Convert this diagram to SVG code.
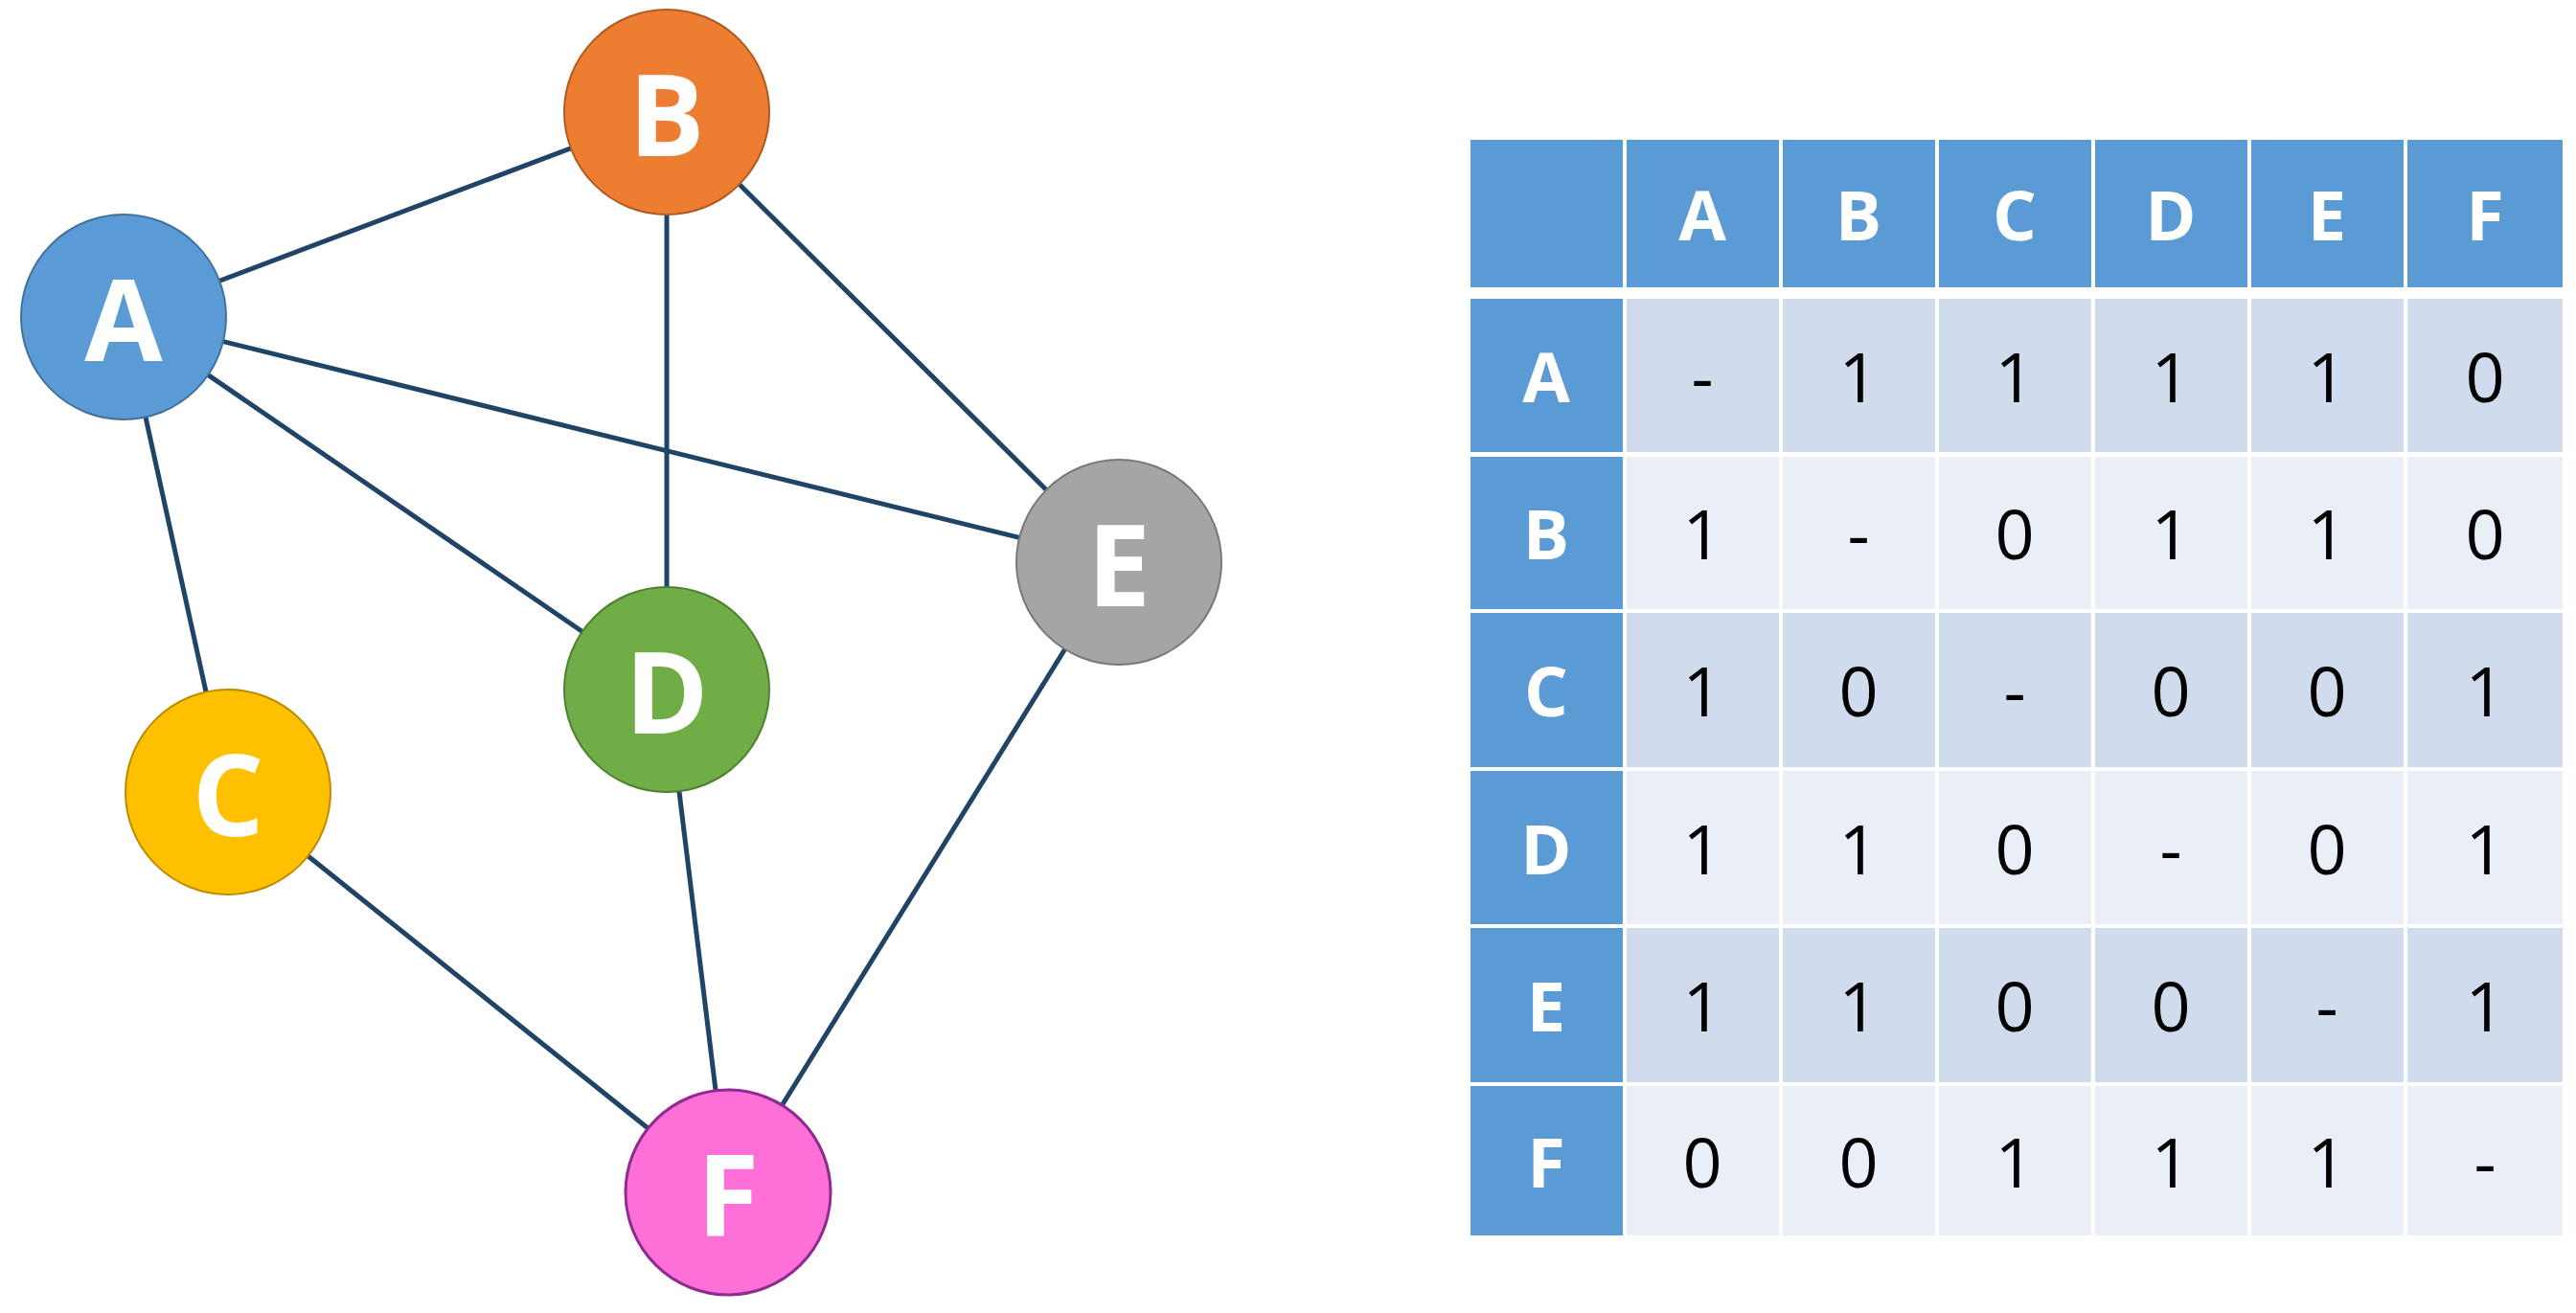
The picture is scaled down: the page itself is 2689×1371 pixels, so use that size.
<svg xmlns="http://www.w3.org/2000/svg" width="2689" height="1371" viewBox="0 0 2689 1371">
<style>
.e{stroke:#1F4467;stroke-width:5;fill:none}
.n text{font-family:"Open Sans","Liberation Sans",sans-serif;font-weight:bold;font-size:118px;fill:#fff;text-anchor:middle;dominant-baseline:central}
.h{fill:#5B9BD5}.o{fill:#D0DCEE}.v{fill:#E9EEF7}
.ht{font-family:"Open Sans","Liberation Sans",sans-serif;font-weight:bold;font-size:72px;fill:#fff;text-anchor:middle;dominant-baseline:central}
.ct{font-family:"Open Sans","Liberation Sans",sans-serif;font-size:72px;fill:#000;text-anchor:middle;dominant-baseline:central}
</style>
<rect width="2689" height="1371" fill="#fff"/>
<g id="connectors">
<line class="e" x1="129" y1="331" x2="696" y2="117"/>
<line class="e" x1="129" y1="331" x2="1168" y2="587"/>
<line class="e" x1="129" y1="331" x2="696" y2="720"/>
<line class="e" x1="129" y1="331" x2="238" y2="827"/>
<line class="e" x1="696" y1="117" x2="696" y2="720"/>
<line class="e" x1="696" y1="117" x2="1168" y2="587"/>
<line class="e" x1="238" y1="827" x2="760" y2="1245"/>
<line class="e" x1="696" y1="720" x2="760" y2="1245"/>
<line class="e" x1="1168" y1="587" x2="760" y2="1245"/>
</g>
<g id="A" class="n"><circle cx="129" cy="331" r="107" fill="#5B9BD5" stroke="#41719C" stroke-width="2"/><text x="129" y="331">A</text></g>
<g id="B" class="n"><circle cx="696" cy="117" r="107" fill="#ED7D31" stroke="#AE5A21" stroke-width="2"/><text x="696" y="117">B</text></g>
<g id="C" class="n"><circle cx="238" cy="827" r="107" fill="#FFC000" stroke="#BC8C00" stroke-width="2"/><text x="238" y="827">C</text></g>
<g id="D" class="n"><circle cx="696" cy="720" r="107" fill="#70AD47" stroke="#507E32" stroke-width="2"/><text x="696" y="720">D</text></g>
<g id="E" class="n"><circle cx="1168" cy="587" r="107" fill="#A5A5A5" stroke="#787878" stroke-width="2"/><text x="1168" y="587">E</text></g>
<g id="F" class="n"><circle cx="760" cy="1245" r="107" fill="#FF6FD8" stroke="#8E2B8E" stroke-width="3"/><text x="760" y="1245">F</text></g>
<g id="table">
<rect class="h" x="1535" y="146" width="159" height="154"/>
<rect class="h" x="1698" y="146" width="159" height="154"/><text class="ht" x="1777" y="223">A</text>
<rect class="h" x="1861" y="146" width="159" height="154"/><text class="ht" x="1940" y="223">B</text>
<rect class="h" x="2024" y="146" width="159" height="154"/><text class="ht" x="2103" y="223">C</text>
<rect class="h" x="2187" y="146" width="159" height="154"/><text class="ht" x="2266" y="223">D</text>
<rect class="h" x="2350" y="146" width="159" height="154"/><text class="ht" x="2429" y="223">E</text>
<rect class="h" x="2513" y="146" width="162" height="154"/><text class="ht" x="2594" y="223">F</text>
<g id="rows">
<rect class="h" x="1535" y="312" width="159" height="160"/><text class="ht" x="1614" y="392">A</text>
<rect class="h" x="1535" y="477" width="159" height="159"/><text class="ht" x="1614" y="556">B</text>
<rect class="h" x="1535" y="640" width="159" height="161"/><text class="ht" x="1614" y="720">C</text>
<rect class="h" x="1535" y="805" width="159" height="160"/><text class="ht" x="1614" y="885">D</text>
<rect class="h" x="1535" y="969" width="159" height="161"/><text class="ht" x="1614" y="1049">E</text>
<rect class="h" x="1535" y="1134" width="159" height="156"/><text class="ht" x="1614" y="1212">F</text>
</g>
<g id="cells">
<rect class="o" x="1698" y="312" width="977" height="160"/>
<rect class="v" x="1698" y="477" width="977" height="159"/>
<rect class="o" x="1698" y="640" width="977" height="161"/>
<rect class="v" x="1698" y="805" width="977" height="160"/>
<rect class="o" x="1698" y="969" width="977" height="161"/>
<rect class="v" x="1698" y="1134" width="977" height="156"/>
<g stroke="#fff" stroke-width="4">
<line x1="1859" y1="312" x2="1859" y2="1290"/><line x1="2022" y1="312" x2="2022" y2="1290"/><line x1="2185" y1="312" x2="2185" y2="1290"/><line x1="2348" y1="312" x2="2348" y2="1290"/><line x1="2511" y1="312" x2="2511" y2="1290"/>
</g>
<text class="ct" x="1777" y="392">-</text><text class="ct" x="1940" y="392">1</text><text class="ct" x="2103" y="392">1</text><text class="ct" x="2266" y="392">1</text><text class="ct" x="2429" y="392">1</text><text class="ct" x="2594" y="392">0</text>
<text class="ct" x="1777" y="556">1</text><text class="ct" x="1940" y="556">-</text><text class="ct" x="2103" y="556">0</text><text class="ct" x="2266" y="556">1</text><text class="ct" x="2429" y="556">1</text><text class="ct" x="2594" y="556">0</text>
<text class="ct" x="1777" y="720">1</text><text class="ct" x="1940" y="720">0</text><text class="ct" x="2103" y="720">-</text><text class="ct" x="2266" y="720">0</text><text class="ct" x="2429" y="720">0</text><text class="ct" x="2594" y="720">1</text>
<text class="ct" x="1777" y="885">1</text><text class="ct" x="1940" y="885">1</text><text class="ct" x="2103" y="885">0</text><text class="ct" x="2266" y="885">-</text><text class="ct" x="2429" y="885">0</text><text class="ct" x="2594" y="885">1</text>
<text class="ct" x="1777" y="1049">1</text><text class="ct" x="1940" y="1049">1</text><text class="ct" x="2103" y="1049">0</text><text class="ct" x="2266" y="1049">0</text><text class="ct" x="2429" y="1049">-</text><text class="ct" x="2594" y="1049">1</text>
<text class="ct" x="1777" y="1212">0</text><text class="ct" x="1940" y="1212">0</text><text class="ct" x="2103" y="1212">1</text><text class="ct" x="2266" y="1212">1</text><text class="ct" x="2429" y="1212">1</text><text class="ct" x="2594" y="1212">-</text>
</g>
</g>
</svg>
